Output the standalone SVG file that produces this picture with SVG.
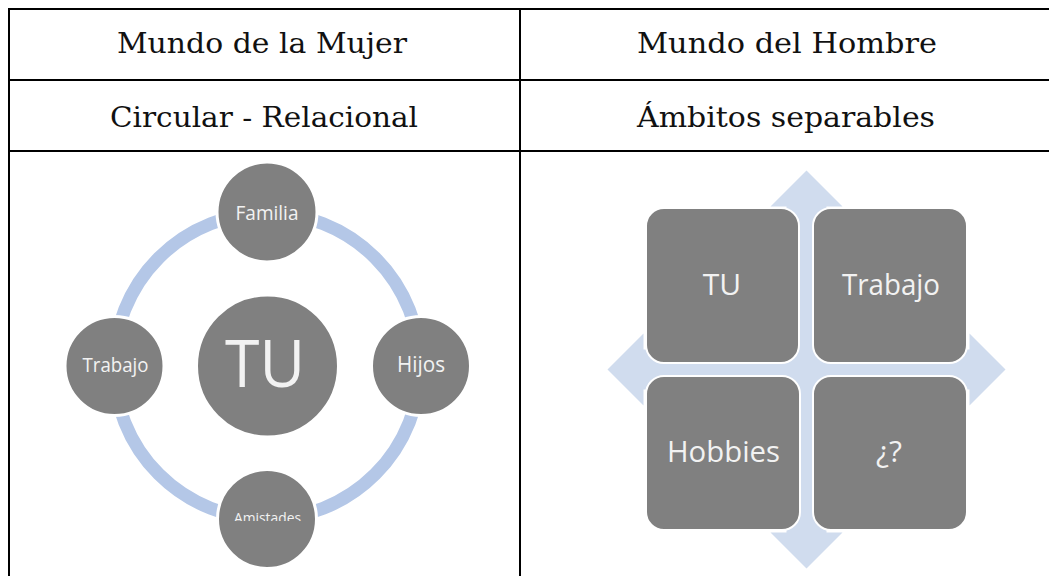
<svg xmlns="http://www.w3.org/2000/svg" width="1049" height="576" viewBox="0 0 1049 576">
  <style>
    .grid { stroke: #000; stroke-width: 2; fill: none; }
    .hdr { font-family: "DejaVu Serif", "Liberation Serif", serif; font-size: 27px; fill: #111; text-anchor: middle; }
    .circ { fill: #808080; stroke: #fff; stroke-width: 3; }
    .box { fill: #808080; stroke: #fff; stroke-width: 2; }
    .lbl { font-family: "Open Sans", "Noto Sans", "Liberation Sans", sans-serif; fill: #f2f2f2; text-anchor: middle; }
    .ring { fill: none; stroke: #b4c7e7; stroke-width: 13; }
  </style>
  <defs>
    <clipPath id="amClip"><rect x="200" y="490" width="140" height="31"/></clipPath>
  </defs>
  <rect width="1049" height="576" fill="#fff"/>

  <g id="table">
    <line class="grid" x1="8" y1="9" x2="1049" y2="9"/>
    <line class="grid" x1="8" y1="80" x2="1049" y2="80"/>
    <line class="grid" x1="8" y1="151" x2="1049" y2="151"/>
    <line class="grid" x1="9" y1="8" x2="9" y2="576"/>
    <line class="grid" x1="520" y1="8" x2="520" y2="576"/>
  </g>

  <g id="header-mujer"><text class="hdr" x="262" y="53" textLength="290" lengthAdjust="spacingAndGlyphs">Mundo de la Mujer</text></g>
  <g id="header-hombre"><text class="hdr" x="787" y="53" textLength="300" lengthAdjust="spacingAndGlyphs">Mundo del Hombre</text></g>
  <g id="sub-mujer"><text class="hdr" x="264" y="127" textLength="308" lengthAdjust="spacingAndGlyphs">Circular - Relacional</text></g>
  <g id="sub-hombre"><text class="hdr" x="786" y="127" textLength="298" lengthAdjust="spacingAndGlyphs">Ámbitos separables</text></g>

  <g id="connectors">
    <circle class="ring" cx="267" cy="366" r="153"/>
  </g>

  <g id="node-tu-center">
    <circle class="circ" cx="267.5" cy="366" r="71"/>
    <text class="lbl" x="265" y="387" font-size="66" textLength="80" lengthAdjust="spacingAndGlyphs">TU</text>
  </g>
  <g id="node-familia">
    <circle class="circ" cx="267" cy="212" r="50"/>
    <text class="lbl" x="267" y="220" font-size="20" textLength="63" lengthAdjust="spacingAndGlyphs">Familia</text>
  </g>
  <g id="node-hijos">
    <circle class="circ" cx="421" cy="366" r="49.5"/>
    <text class="lbl" x="421" y="372" font-size="21" textLength="48" lengthAdjust="spacingAndGlyphs">Hijos</text>
  </g>
  <g id="node-trabajo-left">
    <circle class="circ" cx="114.5" cy="366" r="49.5"/>
    <text class="lbl" x="115.5" y="372" font-size="20" textLength="66" lengthAdjust="spacingAndGlyphs">Trabajo</text>
  </g>
  <g id="node-amistades">
    <circle class="circ" cx="267" cy="519" r="49.5"/>
    <text class="lbl" x="267.5" y="522.5" font-size="14" textLength="67" lengthAdjust="spacingAndGlyphs" clip-path="url(#amClip)">Amistades</text>
  </g>

  <g id="quad-arrow">
    <polygon fill="#d0dcee" points="806.5,170.5 842.5,206.5 826.5,206.5 826.5,349.5 969.5,349.5 969.5,333.5 1005.5,369.5 969.5,405.5 969.5,389.5 826.5,389.5 826.5,532.5 842.5,532.5 806.5,568.5 770.5,532.5 786.5,532.5 786.5,389.5 643.5,389.5 643.5,405.5 607.5,369.5 643.5,333.5 643.5,349.5 786.5,349.5 786.5,206.5 770.5,206.5"/>
  </g>

  <g id="box-tu">
    <rect class="box" x="646" y="208" width="153" height="155" rx="18"/>
    <text class="lbl" x="722" y="295" font-size="30">TU</text>
  </g>
  <g id="box-trabajo">
    <rect class="box" x="813" y="208" width="154" height="155" rx="18"/>
    <text class="lbl" x="891" y="295" font-size="30" textLength="98" lengthAdjust="spacingAndGlyphs">Trabajo</text>
  </g>
  <g id="box-hobbies">
    <rect class="box" x="646" y="376" width="154" height="154" rx="18"/>
    <text class="lbl" x="723.5" y="462" font-size="30" textLength="113" lengthAdjust="spacingAndGlyphs">Hobbies</text>
  </g>
  <g id="box-unknown">
    <rect class="box" x="813" y="376" width="154" height="154" rx="18"/>
    <text class="lbl" x="889" y="462" font-size="30">¿?</text>
  </g>
</svg>
